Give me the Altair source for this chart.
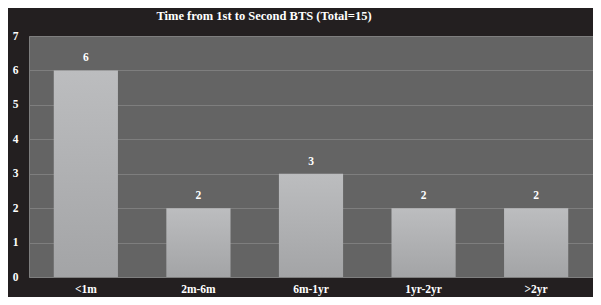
import altair as alt
import pandas as pd

categories = ["<1m", "2m-6m", "6m-1yr", "1yr-2yr", ">2yr"]
counts = [6, 2, 3, 2, 2]
y_ticks = [0, 1, 2, 3, 4, 5, 6, 7]
title_text = "Time from 1st to Second BTS (Total=15)"

df = pd.DataFrame({"cat": categories, "n": counts})

FONT = "Liberation Serif"

x_enc = alt.X("cat:N", sort=categories,
              scale=alt.Scale(paddingInner=0.43, paddingOuter=0.22),
              axis=alt.Axis(title=None, labelAngle=0, domain=False, ticks=False,
                            labelPadding=6, labelColor="white", labelFont=FONT,
                            labelFontWeight="bold", labelFontSize=11.5, grid=False))
y_enc = alt.Y("n:Q", scale=alt.Scale(domain=[0, 7], nice=False),
              axis=alt.Axis(title=None, values=y_ticks, tickCount=8, labelOverlap=False,
                            domain=False, ticks=False,
                            labelPadding=11, labelColor="white", labelFont=FONT,
                            labelFontWeight="bold", labelFontSize=11.5,
                            grid=True, gridColor="#7e7e7e", gridWidth=1))

base = alt.Chart(df).encode(x=x_enc, y=y_enc)

bars = base.mark_bar(
    color=alt.Gradient(gradient="linear",
                       stops=[alt.GradientStop(color="#bcbdbf", offset=0),
                              alt.GradientStop(color="#a3a4a6", offset=1)],
                       x1=0, x2=0, y1=0, y2=1)
)

labels = base.mark_text(
    dy=-12, color="white", font=FONT, fontWeight="bold", fontSize=11.5
).encode(text="n:Q")

chart = alt.layer(bars, labels).properties(
    width=564, height=241,
    autosize=alt.AutoSizeParams(type="none"),
    padding={"left": 21, "top": 28, "right": 0, "bottom": 20},
    background="#231f20",
    title=alt.TitleParams(title_text, color="white", font=FONT, fontWeight="bold",
                          fontSize=12.5, offset=8, dx=-47),
).configure_view(fill="#646464", stroke="#7e7e7e", strokeWidth=1)

chart.save("out.html", embed_options={"renderer": "svg", "actions": False})
